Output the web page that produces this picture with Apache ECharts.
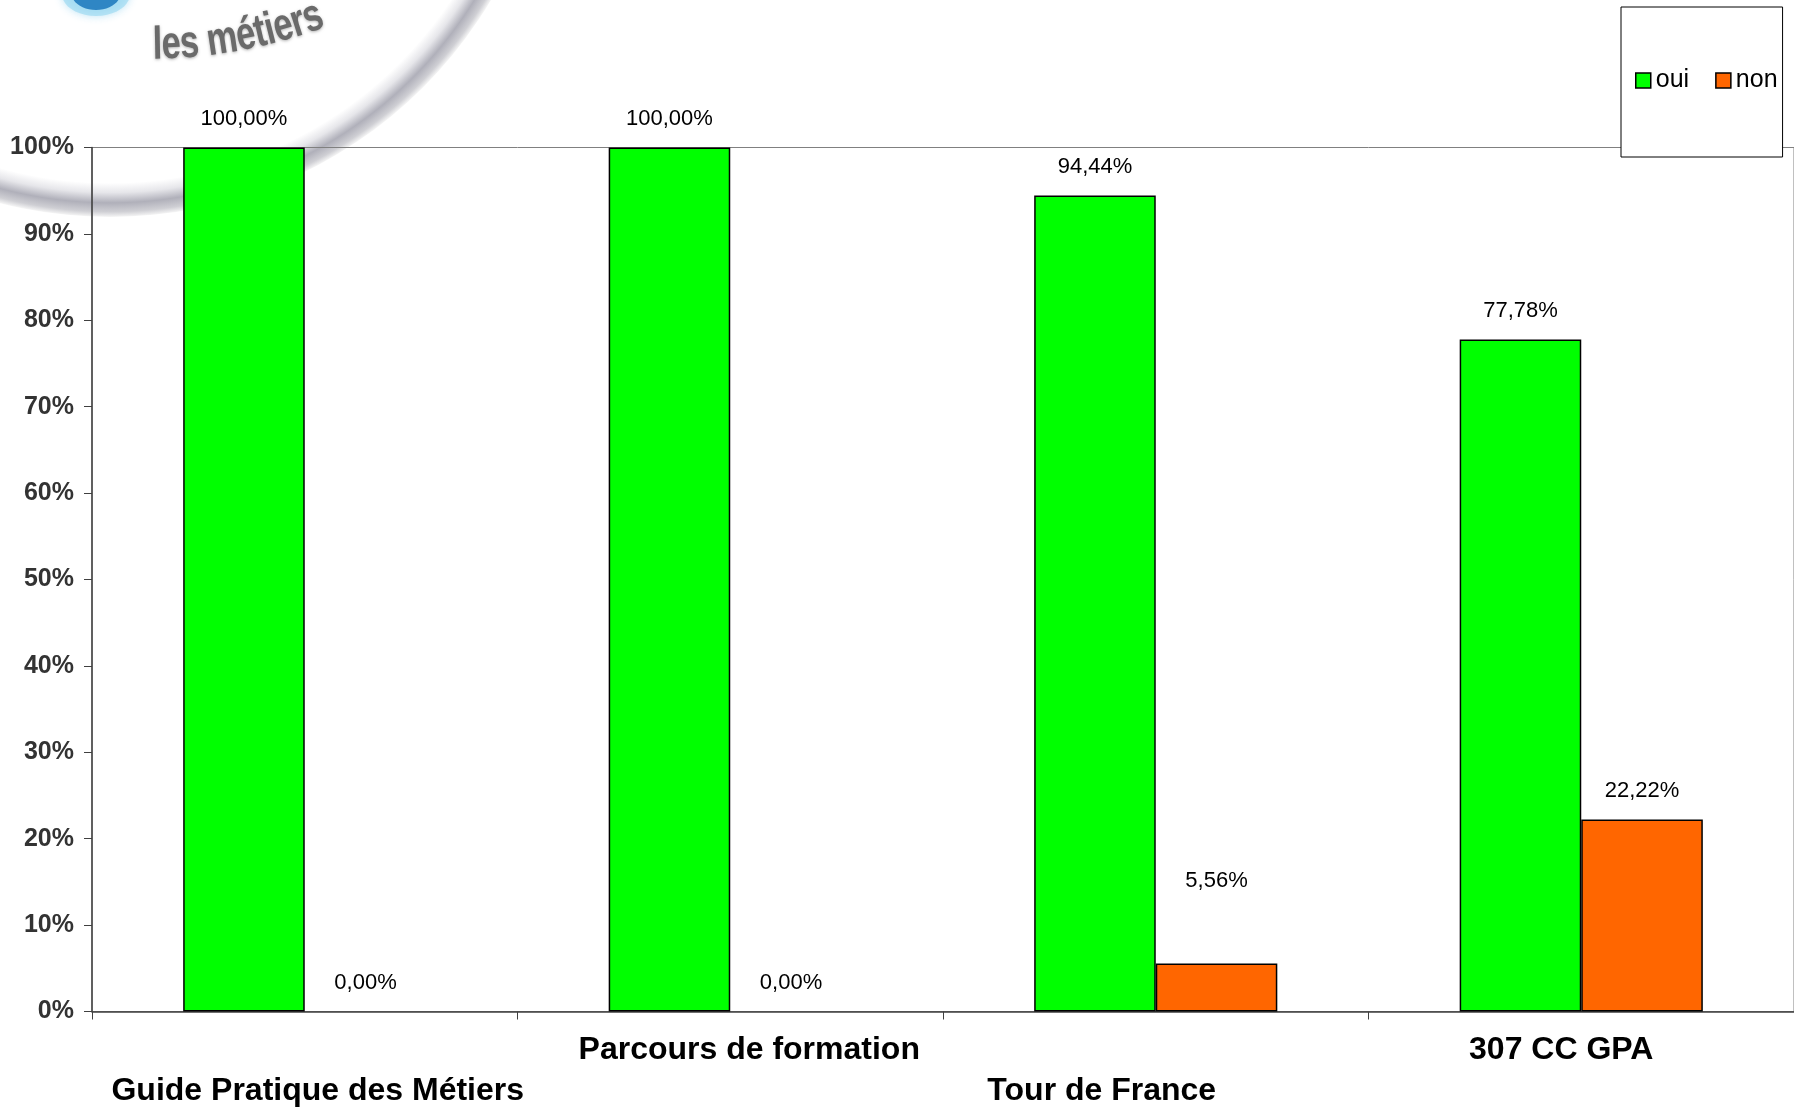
<!DOCTYPE html>
<html><head><meta charset="utf-8">
<script src="https://cdn.jsdelivr.net/npm/echarts@6/dist/echarts.min.js"></script>
<style>html,body{margin:0;padding:0;background:#fff}#c{width:1794px;height:1109px}</style>
</head><body><div id="c"></div>
<script>
// ---- data ----
const categories = ['Guide Pratique des Métiers', 'Parcours de formation', 'Tour de France', '307 CC GPA'];
const seriesNames = ['oui', 'non'];
const ouiValues = [100, 100, 94.44, 77.78];
const nonValues = [0, 0, 5.56, 22.22];
const yMin = 0, yMax = 100, yStep = 10;

// ---- layout tweaks (not data) ----
const labelShift = [13, 19, -54, -20];   // horizontal nudge of category labels
const labelLower = [true, false, true, false];
const nonLabelLift = [0, 0, -54, 0];     // extra lift of a data label

const SANS = "'Liberation Sans', Arial, sans-serif";

const rich = {};
categories.forEach((c, i) => {
  const s = labelShift[i];
  rich['r' + i] = {
    fontSize: 32, fontWeight: 'bold', fontFamily: SANS, color: '#000', lineHeight: 32,
    padding: [labelLower[i] ? 82 : 0, s < 0 ? -2 * s : 0, 0, s > 0 ? 2 * s : 0]
  };
});

const fmt = v => v.toFixed(2).replace('.', ',') + '%';
const labelBase = {
  show: true, position: 'top', distance: 18, color: '#000',
  fontSize: 22, fontFamily: SANS, formatter: p => fmt(p.value)
};

function barData(values, lift) {
  return values.map((v, i) => {
    const d = { value: v };
    if (v === 0) d.itemStyle = { borderWidth: 0 };
    if (lift && lift[i]) d.label = { offset: [0, lift[i]] };
    return d;
  });
}

// logo decoration (background picture in the reference)
const logo = [];
logo.push({
  type: 'ring', z: -100, silent: true,
  shape: { cx: 110, cy: -226, r: 443, r0: 409 },
  style: {
    fill: { type: 'radial', x: 0.5, y: 0.5, r: 0.5, colorStops: [
      { offset: 0, color: '#fff' }, { offset: 0.923, color: '#fff' },
      { offset: 0.945, color: '#e6e6ea' }, { offset: 0.968, color: '#b0b0ba' },
      { offset: 0.988, color: '#cfcfd4' }, { offset: 1, color: '#f6f6f6' }] }
  }
});
logo.push({ type: 'ellipse', z: -99, silent: true, shape: { cx: 96, cy: -6, rx: 34, ry: 22 },
  style: { fill: 'rgba(150,215,240,0.6)', shadowBlur: 8, shadowColor: 'rgba(120,200,235,0.8)' } });
logo.push({ type: 'ellipse', z: -98, silent: true, shape: { cx: 96, cy: -8, rx: 25, ry: 18 },
  style: { fill: '#2f86c4' } });
// "les métiers" along an arc
(function () {
  const txt = 'les métiers';
  const w = { 'l': .278, 'e': .556, 's': .556, ' ': .278, 'm': .889, 'é': .556, 't': .333, 'i': .278, 'r': .389 };
  const fs = 46, sx = 0.75, R = 520, cx = 148, cy = -451, phi0 = 0.01;
  let s = 0;
  for (const ch of txt) {
    const adv = w[ch] * fs * sx;
    const phi = phi0 + (s + adv / 2) / R;
    s += adv;
    if (ch === ' ') continue;
    logo.push({
      type: 'text', z: -97, silent: true,
      x: cx + R * Math.sin(phi), y: cy + R * Math.cos(phi), rotation: phi, scaleX: sx,
      style: { text: ch, fill: '#6a6a6a', font: 'bold ' + fs + 'px ' + SANS, align: 'center', verticalAlign: 'bottom',
        textShadowColor: 'rgba(0,0,0,0.3)', textShadowBlur: 3, textShadowOffsetY: 1 }
    });
  }
})();

const chart = echarts.init(document.getElementById('c'));
chart.setOption({
  animation: false,
  backgroundColor: '#fff',
  graphic: logo,
  grid: { left: 92, right: -4, top: 147.5, bottom: 97.5, show: true, borderColor: '#808080', borderWidth: 1, backgroundColor: 'transparent' },
  legend: {
    data: seriesNames, left: 1621, top: 7, orient: 'horizontal',
    padding: [61, 5, 64, 14], itemGap: 26, itemWidth: 15, itemHeight: 15, icon: 'rect',
    backgroundColor: '#fff', borderColor: '#000', borderWidth: 1,
    itemStyle: { borderColor: '#000', borderWidth: 1.5 },
    textStyle: { fontSize: 25, color: '#000', fontFamily: SANS }
  },
  xAxis: {
    type: 'category', data: categories,
    axisLine: { lineStyle: { color: '#404040', width: 1.5 } },
    axisTick: { show: true, length: 8, lineStyle: { color: '#404040' } },
    axisLabel: { interval: 0, margin: 23, formatter: (v, i) => '{r' + i + '|' + v + '}', rich: rich }
  },
  yAxis: {
    type: 'value', min: yMin, max: yMax, interval: yStep,
    axisLine: { show: true, lineStyle: { color: '#404040', width: 1.5 } },
    axisTick: { show: true, length: 8, lineStyle: { color: '#404040' } },
    splitLine: { show: false },
    axisLabel: { formatter: '{value}%', fontSize: 25, fontWeight: 'bold', color: '#333', fontFamily: SANS, margin: 18 }
  },
  series: [
    { name: seriesNames[0], type: 'bar', barGap: '0%', barCategoryGap: '42.86%', data: barData(ouiValues),
      itemStyle: { color: '#00ff00', borderColor: '#000', borderWidth: 1.5 }, label: labelBase },
    { name: seriesNames[1], type: 'bar', barGap: '0%', barCategoryGap: '42.86%', data: barData(nonValues, nonLabelLift),
      itemStyle: { color: '#ff6600', borderColor: '#000', borderWidth: 1.5 }, label: labelBase }
  ]
});
</script></body></html>
